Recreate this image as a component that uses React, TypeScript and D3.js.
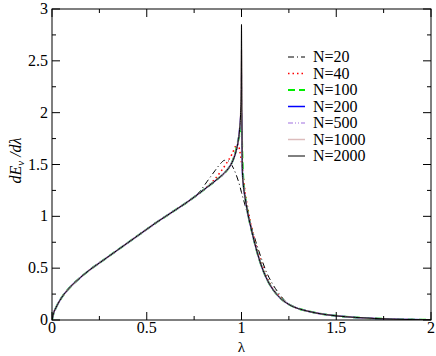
import React, { useEffect, useRef } from "react";
import * as d3 from "d3";

type Pt = [number, number];

// shared rising part (all N coincide here)
const startLambda = [0, 0.01, 0.02, 0.04, 0.06, 0.08, 0.1, 0.15, 0.2, 0.25, 0.3, 0.35, 0.4, 0.45, 0.5, 0.55, 0.6, 0.65, 0.7, 0.75];
const startValue = [0, 0.075, 0.115, 0.185, 0.24, 0.285, 0.325, 0.41, 0.485, 0.55, 0.615, 0.68, 0.745, 0.81, 0.875, 0.94, 1.0, 1.06, 1.12, 1.185];

// shared decaying tail
const tailLambda = [1.25, 1.3, 1.35, 1.4, 1.5, 1.6, 1.7, 1.8, 1.9, 2.0];
const tailValue = [0.15, 0.11, 0.085, 0.065, 0.04, 0.025, 0.015, 0.008, 0.004, 0.002];

// large-N curve on either side of the cusp
const nearLeft: Pt[] = [[0.8, 1.255], [0.85, 1.325], [0.88, 1.37], [0.9, 1.4], [0.93, 1.46], [0.95, 1.52], [0.97, 1.62], [0.98, 1.7], [0.99, 1.84]];
const nearRight: Pt[] = [[1.005, 1.42], [1.01, 1.3], [1.02, 1.17], [1.03, 1.06], [1.04, 0.97], [1.05, 0.89], [1.07, 0.74], [1.1, 0.55], [1.13, 0.41], [1.16, 0.31], [1.2, 0.22]];

const midN20: Pt[] = [[0.78, 1.24], [0.82, 1.34], [0.86, 1.44], [0.89, 1.51], [0.91, 1.54], [0.93, 1.535], [0.95, 1.49], [0.97, 1.41], [0.99, 1.3], [1.0, 1.23], [1.02, 1.1], [1.04, 0.97], [1.06, 0.85], [1.08, 0.73], [1.1, 0.62], [1.13, 0.47], [1.16, 0.36], [1.2, 0.25]];
const midN40: Pt[] = [[0.8, 1.255], [0.85, 1.34], [0.89, 1.43], [0.92, 1.51], [0.95, 1.6], [0.97, 1.68], [0.98, 1.7], [0.99, 1.64], [1.0, 1.52], [1.01, 1.38], [1.02, 1.22], [1.035, 1.06], [1.05, 0.92], [1.07, 0.77], [1.1, 0.58], [1.13, 0.43], [1.16, 0.32], [1.2, 0.23]];
const midN100: Pt[] = [[0.8, 1.255], [0.85, 1.325], [0.88, 1.37], [0.9, 1.4], [0.93, 1.46], [0.95, 1.52], [0.97, 1.63], [0.98, 1.71], [0.99, 1.79], [1.0, 1.88], [1.005, 1.55], [1.01, 1.34], [1.02, 1.18], [1.03, 1.07]];
const peakN200: Pt[] = [[0.995, 1.94], [1.0, 2.05], [1.003, 1.7]];
const peakN500: Pt[] = [[0.995, 1.96], [0.998, 2.1], [1.0, 2.4], [1.002, 1.8]];
const peakN1000: Pt[] = [[0.995, 1.97], [0.998, 2.15], [1.0, 2.6], [1.002, 1.9]];
const peakN2000: Pt[] = [[0.995, 1.98], [0.998, 2.2], [1.0, 2.85], [1.002, 2.0]];

const legendLabels = ["N=20", "N=40", "N=100", "N=200", "N=500", "N=1000", "N=2000"];
const xTicks = [0, 0.5, 1, 1.5, 2];
const yTicks = [0, 0.5, 1, 1.5, 2, 2.5, 3];

const start: Pt[] = startLambda.map((l, i) => [l, startValue[i]]);
const tail: Pt[] = tailLambda.map((l, i) => [l, tailValue[i]]);
const right100: Pt[] = nearRight.filter((p) => p[0] > 1.03);

const seriesData: Pt[][] = [
  [...start, ...midN20, ...tail],
  [...start, ...midN40, ...tail],
  [...start, ...midN100, ...right100, ...tail],
  [...start, ...nearLeft, ...peakN200, ...nearRight, ...tail],
  [...start, ...nearLeft, ...peakN500, ...nearRight, ...tail],
  [...start, ...nearLeft, ...peakN1000, ...nearRight, ...tail],
  [...start, ...nearLeft, ...peakN2000, ...nearRight, ...tail],
];

const styles = [
  { color: "#000000", dash: "6,3,1,3", width: 1 },
  { color: "#ff0000", dash: "1.5,3", width: 1.5 },
  { color: "#00ee00", dash: "7,4", width: 2 },
  { color: "#0000ff", dash: "", width: 1.5 },
  { color: "#a070e0", dash: "5,2,1,2,1,2", width: 1.2 },
  { color: "#dcbcbc", dash: "", width: 1.5 },
  { color: "#000000", dash: "", width: 1 },
];

const W = 436;
const H = 356;
const left = 52;
const right = 431;
const top = 9;
const bottom = 320;
const font = "'Liberation Serif', 'DejaVu Serif', 'Times New Roman', serif";

const App = () => {
  const svgRef = useRef<SVGSVGElement>(null);

  useEffect(() => {
    const svg = d3.select(svgRef.current);
    svg.selectAll("*").remove();

    const x = d3.scaleLinear().domain([0, 2]).range([left, right]);
    const y = d3.scaleLinear().domain([0, 3]).range([bottom, top]);

    const clip = svg.append("clipPath").attr("id", "plotclip");
    clip.append("rect").attr("x", left).attr("y", top).attr("width", right - left).attr("height", bottom - top);

    const line = d3
      .line<Pt>()
      .x((d) => x(d[0]))
      .y((d) => y(d[1]))
      .curve(d3.curveMonotoneX);

    const g = svg.append("g").attr("clip-path", "url(#plotclip)");
    seriesData.forEach((s, i) => {
      g.append("path")
        .attr("d", line(s))
        .attr("fill", "none")
        .attr("stroke", styles[i].color)
        .attr("stroke-width", styles[i].width)
        .attr("stroke-dasharray", styles[i].dash);
    });

    // frame
    svg.append("rect")
      .attr("x", left).attr("y", top)
      .attr("width", right - left).attr("height", bottom - top)
      .attr("fill", "none").attr("stroke", "#000").attr("stroke-width", 1);

    // ticks (inward, mirrored on top and right)
    const xMinor = d3.range(0, 2.001, 0.25);
    const yMinor = d3.range(0, 3.001, 0.25);
    xMinor.forEach((v) => {
      const major = Math.abs(v * 2 - Math.round(v * 2)) < 1e-6;
      const len = major ? 8 : 4;
      svg.append("line").attr("x1", x(v)).attr("x2", x(v)).attr("y1", bottom).attr("y2", bottom - len).attr("stroke", "#000");
      svg.append("line").attr("x1", x(v)).attr("x2", x(v)).attr("y1", top).attr("y2", top + len).attr("stroke", "#000");
    });
    yMinor.forEach((v) => {
      const major = Math.abs(v * 2 - Math.round(v * 2)) < 1e-6;
      const len = major ? 8 : 4;
      svg.append("line").attr("y1", y(v)).attr("y2", y(v)).attr("x1", left).attr("x2", left + len).attr("stroke", "#000");
      svg.append("line").attr("y1", y(v)).attr("y2", y(v)).attr("x1", right).attr("x2", right - len).attr("stroke", "#000");
    });

    svg.selectAll(".xt").data(xTicks).join("text")
      .attr("x", (d) => x(d)).attr("y", bottom + 13)
      .attr("text-anchor", "middle").style("font-family", font).style("font-size", "16px")
      .text((d) => String(d));

    svg.selectAll(".yt").data(yTicks).join("text")
      .attr("x", left - 4).attr("y", (d) => y(d) + 5)
      .attr("text-anchor", "end").style("font-family", font).style("font-size", "16px")
      .text((d) => String(d));

    svg.append("text")
      .attr("x", (left + right) / 2).attr("y", 352)
      .attr("text-anchor", "middle").style("font-family", font).style("font-size", "15px")
      .text("λ");

    const yl = svg.append("text")
      .attr("transform", `translate(21,${(top + bottom) / 2 - 4}) rotate(-90)`)
      .attr("text-anchor", "middle").style("font-family", font).style("font-size", "16px")
      .style("font-style", "italic");
    yl.append("tspan").text("dE");
    yl.append("tspan").attr("baseline-shift", "-30%").style("font-size", "11px").text("v");
    yl.append("tspan").text(" /dλ");

    // legend
    const lg = svg.append("g");
    legendLabels.forEach((lab, i) => {
      const yy = 57 + i * 16.5;
      lg.append("line")
        .attr("x1", 288).attr("x2", 305).attr("y1", yy).attr("y2", yy)
        .attr("stroke", styles[i].color).attr("stroke-width", styles[i].width)
        .attr("stroke-dasharray", styles[i].dash);
      lg.append("text")
        .attr("x", 313).attr("y", yy + 5)
        .style("font-family", font).style("font-size", "16px")
        .text(lab);
    });
  }, []);

  return (
    <svg
      ref={svgRef}
      width={W}
      height={H}
      style={{ position: "absolute", left: 0, top: 0, background: "#fff" }}
    />
  );
};

export default App;
